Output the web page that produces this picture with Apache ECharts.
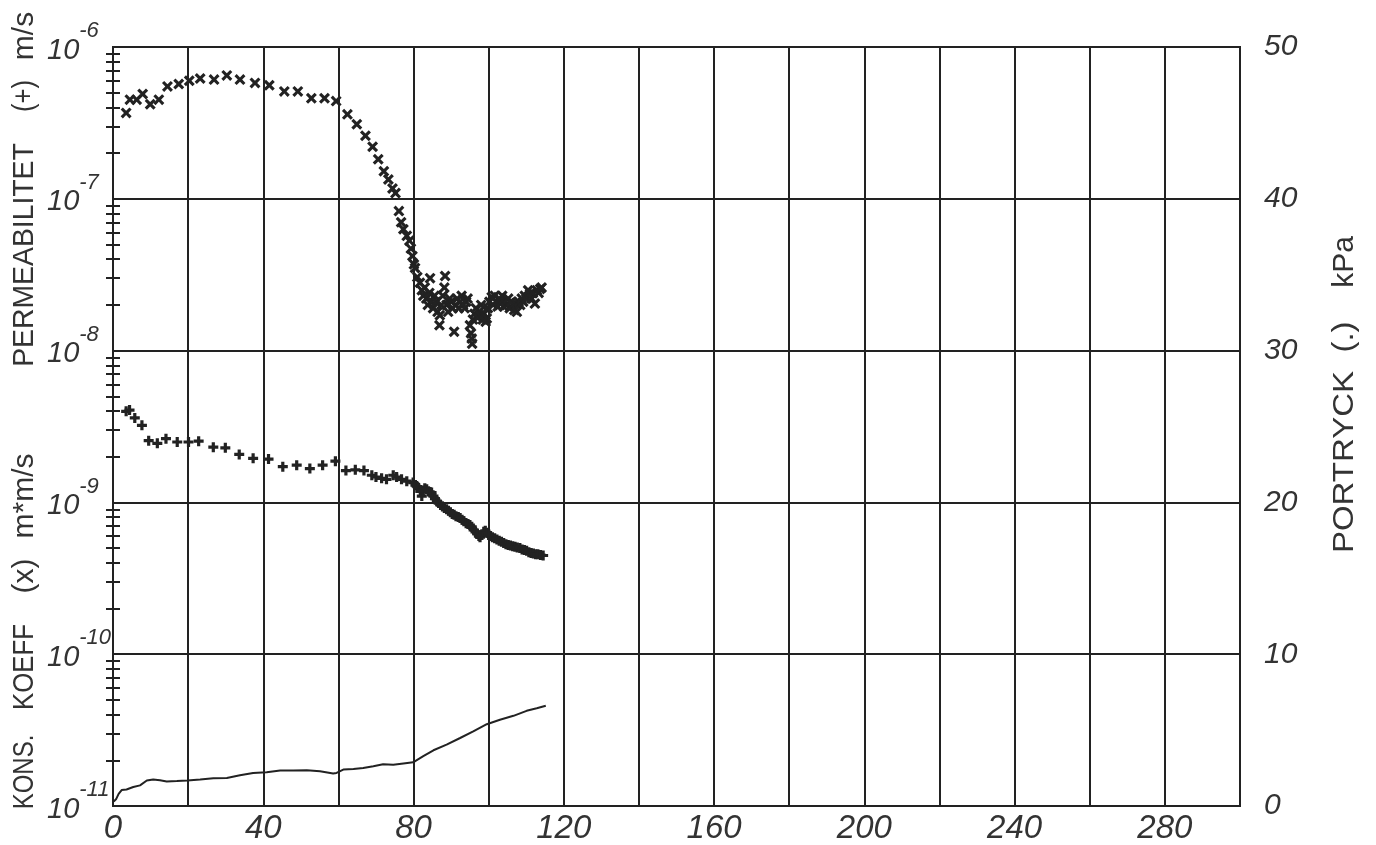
<!DOCTYPE html>
<html>
<head>
<meta charset="utf-8">
<script src="https://cdn.jsdelivr.net/npm/echarts@6/dist/echarts.min.js"></script>
<style>
  html, body { margin: 0; padding: 0; background: #fff; }
  #chart { width: 1376px; height: 845px; }
</style>
</head>
<body>
<div id="chart"></div>
<script>
// konsolideringskoefficient (x), m*m/s
var koeffX = [3.5, 4.5, 6.3, 7.9, 9.9, 12.2, 14.5, 17.5, 20.3, 23.2, 26.9, 30.3, 33.8, 37.8, 41.6, 45.6, 49.2, 52.8, 56.3, 59.4,
  62.4, 64.9, 67.2, 69.1, 70.6, 72.1, 73.3, 74.4, 75.2, 76.1, 76.7, 77.3, 78.2, 78.9, 79.3, 79.7, 80.1, 80.4, 81.0, 81.7,
  82.2, 82.6, 83.0, 83.4, 83.8, 84.2, 84.4, 84.8, 85.2, 85.6, 86.0, 86.4, 86.9, 87.0, 87.4, 87.8, 88.2, 88.4, 88.8, 89.2,
  89.6, 90.0, 90.4, 90.8, 91.2, 91.6, 92.0, 92.4, 92.8, 93.2, 93.6, 94.0, 94.4, 95.0, 95.3, 95.5, 95.6, 95.8, 96.2, 96.6,
  97.0, 97.4, 97.7, 98.0, 98.4, 98.8, 99.2, 99.5, 99.8, 100.2, 100.8, 101.2, 101.6, 102.0, 102.4, 102.8, 103.2, 103.6, 104.0, 104.4,
  104.8, 105.2, 105.6, 106.0, 106.4, 106.8, 107.2, 107.5, 108.0, 108.4, 108.8, 109.2, 109.6, 110.0, 110.5, 111.0, 111.4, 111.8, 112.3, 112.8,
  113.3, 113.7, 114.1];
var koeffY = [3.68e-7, 4.5e-7, 4.5e-7, 4.9e-7, 4.2e-7, 4.5e-7, 5.5e-7, 5.7e-7, 6.0e-7, 6.2e-7, 6.1e-7, 6.5e-7, 6.1e-7, 5.8e-7, 5.6e-7, 5.1e-7, 5.1e-7, 4.6e-7, 4.6e-7, 4.4e-7,
  3.6e-7, 3.1e-7, 2.6e-7, 2.2e-7, 1.82e-7, 1.52e-7, 1.34e-7, 1.17e-7, 1.09e-7, 8.3e-8, 7.0e-8, 6.3e-8, 5.7e-8, 5.3e-8, 4.7e-8, 4.2e-8, 3.7e-8, 3.5e-8, 3.05e-8, 2.8e-8,
  2.5e-8, 2.3e-8, 2.6e-8, 2.2e-8, 2.0e-8, 2.4e-8, 3.0e-8, 2.1e-8, 1.9e-8, 2.3e-8, 2.1e-8, 1.8e-8, 1.47e-8, 1.71e-8, 2.0e-8, 2.3e-8, 2.6e-8, 3.1e-8, 2.0e-8, 1.8e-8,
  2.2e-8, 2.1e-8, 1.9e-8, 1.33e-8, 2.0e-8, 2.2e-8, 1.9e-8, 2.1e-8, 2.3e-8, 2.0e-8, 1.9e-8, 2.1e-8, 2.2e-8, 1.47e-8, 1.3e-8, 1.2e-8, 1.11e-8, 1.6e-8, 1.75e-8, 1.9e-8,
  1.65e-8, 1.8e-8, 1.7e-8, 2.0e-8, 1.6e-8, 1.75e-8, 1.55e-8, 1.63e-8, 1.9e-8, 2.1e-8, 2.25e-8, 2.0e-8, 2.3e-8, 2.1e-8, 1.95e-8, 2.2e-8, 2.05e-8, 2.3e-8, 1.95e-8, 2.1e-8,
  2.0e-8, 2.2e-8, 1.9e-8, 2.1e-8, 2.0e-8, 1.85e-8, 2.05e-8, 1.8e-8, 2.1e-8, 2.0e-8, 2.2e-8, 2.1e-8, 2.3e-8, 2.2e-8, 2.5e-8, 2.37e-8, 2.2e-8, 2.4e-8, 2.04e-8, 2.5e-8,
  2.4e-8, 2.55e-8, 2.6e-8];

// permeabilitet (+), m/s
var permX = [3.5, 4.4, 5.8, 7.7, 9.5, 11.8, 14.1, 17.1, 20.1, 22.8, 26.7, 29.9, 33.6, 37.3, 41.4, 45.2, 48.9, 52.4, 55.8, 59.2,
  62.0, 64.5, 66.8, 68.9, 70.0, 71.5, 72.8, 74.6, 75.5, 76.8, 78.2, 79.9, 80.5, 81.0, 81.3, 81.8, 82.2, 82.6, 83.0, 83.5,
  84.0, 84.4, 84.8, 85.3, 85.7, 86.2, 86.7, 87.2, 87.7, 88.2, 88.8, 89.3, 89.8, 90.3, 90.8, 91.3, 91.9, 92.4, 92.9, 93.4,
  94.0, 94.5, 95.0, 95.5, 96.0, 96.5, 97.0, 97.4, 97.7, 98.2, 98.7, 99.1, 99.5, 100.0, 100.5, 101.0, 101.6, 102.2, 102.8, 103.4,
  104.0, 104.6, 105.2, 105.8, 106.4, 107.0, 107.6, 108.3, 108.9, 109.5, 110.1, 110.7, 111.3, 111.9, 112.5, 113.1, 113.8, 114.5];
var permY = [3.98e-9, 4.06e-9, 3.6e-9, 3.22e-9, 2.55e-9, 2.45e-9, 2.63e-9, 2.5e-9, 2.5e-9, 2.53e-9, 2.31e-9, 2.29e-9, 2.07e-9, 1.95e-9, 1.93e-9, 1.72e-9, 1.76e-9, 1.67e-9, 1.76e-9, 1.87e-9,
  1.62e-9, 1.64e-9, 1.62e-9, 1.51e-9, 1.47e-9, 1.44e-9, 1.42e-9, 1.51e-9, 1.47e-9, 1.42e-9, 1.38e-9, 1.35e-9, 1.30e-9, 1.27e-9, 1.25e-9, 1.18e-9, 1.10e-9, 1.20e-9, 1.24e-9, 1.22e-9,
  1.18e-9, 1.17e-9, 1.16e-9, 1.10e-9, 1.06e-9, 1.02e-9, 9.9e-10, 9.6e-10, 9.4e-10, 9.2e-10, 9.0e-10, 8.8e-10, 8.6e-10, 8.4e-10, 8.3e-10, 8.1e-10, 8.0e-10, 7.9e-10, 7.7e-10, 7.5e-10,
  7.3e-10, 7.2e-10, 7.1e-10, 6.9e-10, 6.6e-10, 6.4e-10, 6.2e-10, 6.0e-10, 5.9e-10, 6.1e-10, 6.4e-10, 6.5e-10, 6.3e-10, 6.1e-10, 6.0e-10, 5.9e-10, 5.8e-10, 5.7e-10, 5.6e-10, 5.5e-10,
  5.4e-10, 5.3e-10, 5.25e-10, 5.2e-10, 5.15e-10, 5.1e-10, 5.05e-10, 5.0e-10, 4.9e-10, 4.85e-10, 4.8e-10, 4.7e-10, 4.65e-10, 4.6e-10, 4.55e-10, 4.55e-10, 4.5e-10, 4.47e-10];

// portryck (.), kPa
var portX = [0.2, 0.8, 1.5, 2.3, 3.6, 5.4, 7.2, 9.0, 10.7, 12.5, 14.3, 17.0, 19.8, 23.2, 26.7, 30.3, 33.8, 37.3, 40.9, 44.5,
  48.0, 51.6, 55.1, 58.6, 59.5, 61.3, 64.0, 66.6, 69.3, 71.9, 74.6, 77.3, 79.9, 82.6, 85.3, 88.8, 92.4, 95.9, 99.5, 103.0,
  106.6, 110.1, 112.8, 115.2];
var portY = [0.3, 0.44, 0.8, 1.05, 1.09, 1.25, 1.36, 1.68, 1.75, 1.70, 1.62, 1.64, 1.68, 1.75, 1.83, 1.85, 2.03, 2.18, 2.23, 2.34,
  2.34, 2.36, 2.29, 2.14, 2.18, 2.40, 2.44, 2.51, 2.62, 2.75, 2.71, 2.80, 2.88, 3.28, 3.67, 4.04, 4.48, 4.91, 5.39, 5.68,
  5.94, 6.27, 6.44, 6.60];

// minor ticks 2..9 per decade (exponent space)
var minorTicks = [];
for (var e = -11; e < -6; e++) {
  for (var k = 2; k <= 9; k++) minorTicks.push(e + Math.log10(k));
}

// axis name words: text, x, y (centre), horizontal squeeze
var nameWords = [
  ['m/s', 25, 36, 1.0], ['(+)', 25, 96, 0.85], ['PERMEABILITET', 25, 255, 0.945],
  ['m*m/s', 25, 496, 1.0], ['(x)', 25, 576, 1.0], ['KOEFF', 25, 667, 0.86], ['KONS.', 25, 772, 0.8],
  ['kPa', 1345, 262, 1.0], ['(.)', 1345, 337, 1.1], ['PORTRYCK', 1345, 462, 1.1]
];

function pairs(xs, ys) {
  return xs.map(function (x, i) { return [x, ys[i]]; });
}

var ink = '#222';
var txt = '#333';
var labelFont = 'Liberation Sans, DejaVu Sans, sans-serif';

var crossX = 'path://M0,2L2,0L5,3L8,0L10,2L7,5L10,8L8,10L5,7L2,10L0,8L3,5Z';
var plus = 'path://M3.4,0H6.6V3.4H10V6.6H6.6V10H3.4V6.6H0V3.4H3.4Z';

var dom = document.getElementById('chart');
var myChart = echarts.init(dom, null, { renderer: 'canvas' });

var option = {
  animation: false,
  grid: { left: 113, right: 136, top: 47, bottom: 35, show: true, borderColor: ink, borderWidth: 2, backgroundColor: 'transparent' },
  xAxis: {
    type: 'value', min: 0, max: 300, interval: 20,
    axisLine: { show: false },
    axisTick: { show: false },
    splitLine: { show: true, lineStyle: { color: ink, width: 2 } },
    axisLabel: {
      margin: 6, color: txt, fontFamily: labelFont, fontStyle: 'italic', fontSize: 33,
      formatter: function (v) { return (v % 40 === 0 && v < 300) ? String(v) : ''; }
    }
  },
  yAxis: [
    {
      type: 'log', logBase: 10, min: 1e-11, max: 1e-6, position: 'left',
      axisLine: { show: false },
      axisTick: { show: false },
      splitLine: { show: true, lineStyle: { color: ink, width: 2 } },
      axisLabel: {
        margin: 66, align: 'left', color: txt, padding: [6, 0, 0, 0],
        formatter: function (v) {
          var ex = Math.round(Math.log10(v));
          return '{b|10}{s|' + ex + '}';
        },
        rich: {
          b: { fontSize: 29, lineHeight: 30, fontFamily: labelFont, fontStyle: 'italic', color: txt, verticalAlign: 'bottom' },
          s: { fontSize: 22, lineHeight: 20, fontFamily: labelFont, fontStyle: 'italic', color: txt, verticalAlign: 'bottom', padding: [0, 0, 23, 0] }
        }
      }
    },
    {
      type: 'value', min: -11, max: -6, position: 'left', offset: -7,
      axisLine: { show: false },
      splitLine: { show: false },
      axisLabel: { show: false },
      axisTick: { show: true, length: 14, customValues: minorTicks, lineStyle: { color: ink, width: 2 } }
    },
    {
      type: 'value', min: 0, max: 50, interval: 10, position: 'right',
      axisLine: { show: false },
      axisTick: { show: false },
      splitLine: { show: false },
      axisLabel: { margin: 24, color: txt, fontFamily: labelFont, fontStyle: 'italic', fontSize: 30, padding: [4, 0, 0, 0] }
    }
  ],
  graphic: nameWords.map(function (w) {
    return {
      type: 'text', x: w[1], y: w[2], rotation: Math.PI / 2, scaleX: w[3],
      style: {
        text: w[0], font: '30px ' + labelFont, fill: txt,
        textAlign: 'center', textVerticalAlign: 'middle', align: 'center', verticalAlign: 'middle'
      }
    };
  }),
  series: [
    {
      name: 'KONS. KOEFF', type: 'scatter', yAxisIndex: 0,
      symbol: crossX, symbolSize: 11,
      itemStyle: { color: ink, opacity: 1 },
      data: pairs(koeffX, koeffY)
    },
    {
      name: 'PERMEABILITET', type: 'scatter', yAxisIndex: 0,
      symbol: plus, symbolSize: 10,
      itemStyle: { color: ink, opacity: 1 },
      data: pairs(permX, permY)
    },
    {
      name: 'PORTRYCK', type: 'line', yAxisIndex: 2,
      showSymbol: false, symbol: 'none',
      lineStyle: { color: ink, width: 2 },
      data: pairs(portX, portY)
    }
  ]
};

if (option && typeof option === 'object') {
  myChart.setOption(option);
}

window.addEventListener('resize', myChart.resize);
</script>
</body>
</html>
